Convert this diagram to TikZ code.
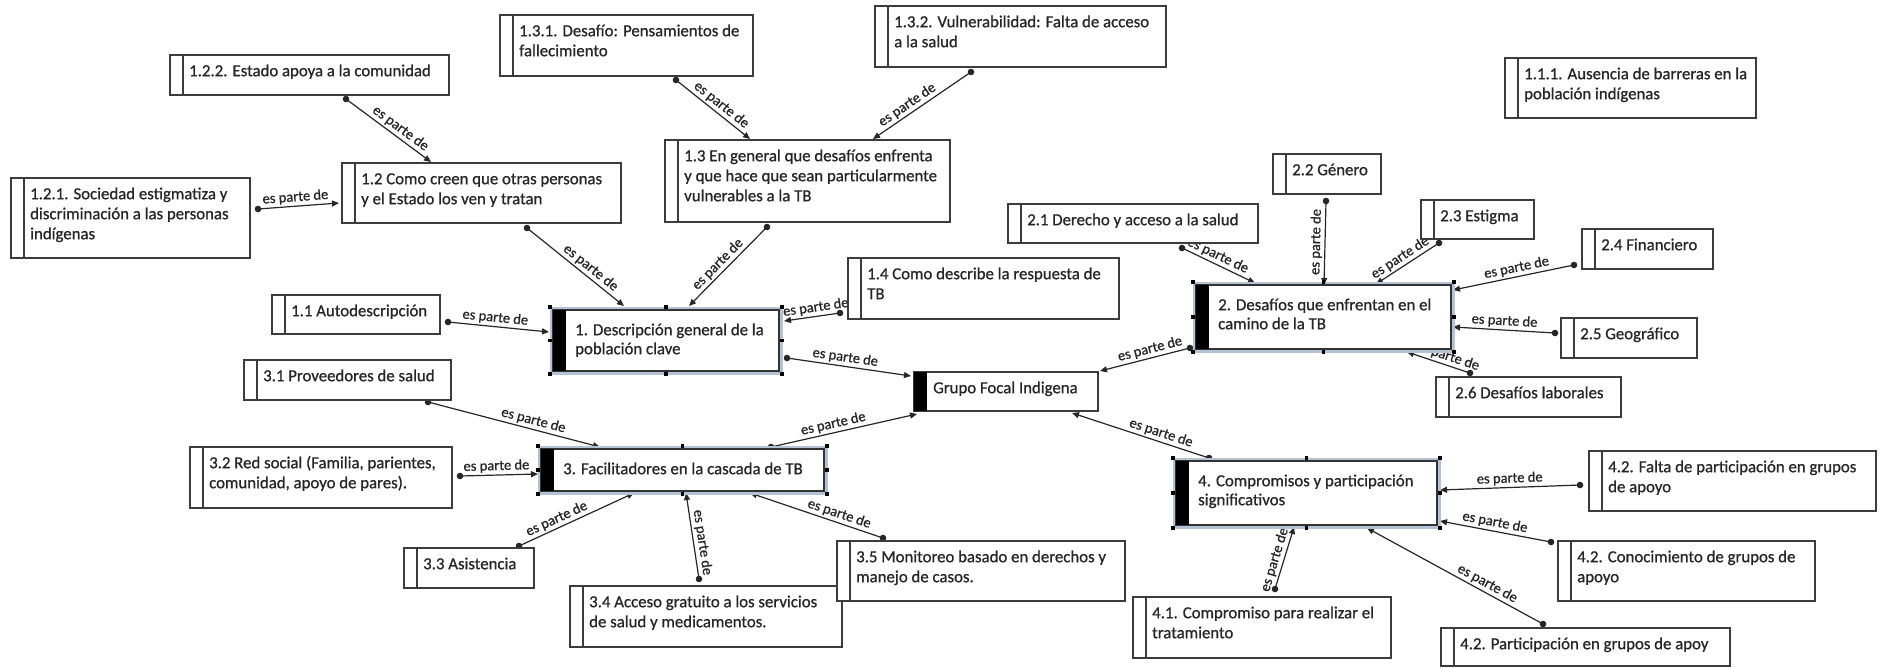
\documentclass[tikz,border=0pt]{standalone}
\usepackage{fontspec}
\setmainfont{Carlito}[RawFeature={embolden=0.8}]
\usetikzlibrary{arrows.meta,backgrounds}
\definecolor{edge}{HTML}{3C3C3C}
\definecolor{ink}{HTML}{262626}
\definecolor{sel}{HTML}{B3C2D4}
\tikzset{
  pbox/.style={draw=edge, line width=1.3pt, fill=white, inner sep=0pt, outer sep=0pt},
  mbox/.style={draw=black!80, line width=1.3pt, fill=white, inner sep=0pt, outer sep=0pt},
  selframe/.style={draw=sel, line width=3pt},
  btext/.style={inner sep=0pt, align=left, text=ink, font=\fontsize{16.8}{20}\selectfont},
  mtext/.style={inner sep=0pt, align=left, text=ink, font=\fontsize{16.8}{19}\selectfont},
  rel/.style={draw=black!85, line width=1.2pt, -{Triangle[length=7pt,width=6pt]}},
  lbl/.style={sloped, above, inner sep=2pt, text=ink, font=\fontsize{14.5}{16}\selectfont},
}
% plain concept box: name, left, top, right, bottom, text
\newcommand\plainbox[6]{%
  \node[pbox, minimum width={(#4-#2)*1pt}, minimum height={(#5-#3)*1pt}, anchor=north west] (#1) at (#2,#3) {};
  \draw[edge, line width=1.2pt] ([xshift=13pt]#1.north west) -- ([xshift=13pt]#1.south west);
  \node[btext, anchor=north west] (#1-t) at ([shift={(19,7)}]#1.north west) {\strut #6};
}
% category box with selection frame, handles and black bar
\newcommand\mainbox[6]{%
  \draw[selframe] (#2-2,#3-2) rectangle (#4+2,#5+2);
  \node[mbox, minimum width={(#4-#2)*1pt}, minimum height={(#5-#3)*1pt}, anchor=north west] (#1) at (#2,#3) {};
  \fill[black] (#1.north west) rectangle ([xshift=13pt]#1.south west);
  \foreach \a/\dx/\dy in {north west/-3/-3, north/0/-3, north east/3/-3, west/-3/0, east/3/0, south west/-3/3, south/0/3, south east/3/3}
    \fill[black] ([shift={(\dx-1.7,\dy-1.7)}]#1.\a) rectangle +(3.4,3.4);
  \node[mtext, anchor=north west] (#1-t) at ([shift={(22,11.7)}]#1.north west) {\strut #6};
}
% connector: from (dot end) to (arrow end), label position
\newcommand\conn[3]{%
  \draw[rel] #1 -- node[lbl, pos=#3] {es parte de} #2;
  \fill[black!85] #1 circle[radius=3.3pt];
}
\begin{document}
\begin{tikzpicture}[x={(1pt,0)}, y={(0,-1pt)}]
\useasboundingbox (0,0) rectangle (1881,667);

% ---- theme 1
\plainbox{b122}{170}{55}{449}{95}{1.2.2. Estado apoya a la comunidad}
\plainbox{b121}{11}{178}{250}{258}{1.2.1. Sociedad estigmatiza y\\discriminación a las personas\\indígenas}
\plainbox{b12}{342}{163}{621}{223}{1.2 Como creen que otras personas\\y el Estado los ven y tratan}
\plainbox{b11}{272}{295}{440}{334}{1.1 Autodescripción}
\plainbox{b131}{500}{15}{753}{76}{1.3.1. Desafío: Pensamientos de\\fallecimiento}
\plainbox{b132}{875}{6}{1166}{67}{1.3.2. Vulnerabilidad: Falta de acceso\\a la salud}
\plainbox{b13}{665}{140}{950}{222}{1.3 En general que desafíos enfrenta\\y que hace que sean particularmente\\vulnerables a la TB}
\plainbox{b14}{848}{258}{1119}{319}{1.4 Como describe la respuesta de\\TB}
\mainbox{b1}{553}{310}{779}{371}{1. Descripción general de la\\población clave}
\plainbox{b111}{1505}{58}{1756}{118}{1.1.1. Ausencia de barreras en la\\población indígenas}

% ---- theme 2
\plainbox{b21}{1008}{204}{1258}{243}{2.1 Derecho y acceso a la salud}
\plainbox{b22}{1273}{154}{1381}{194}{2.2 Género}
\plainbox{b23}{1421}{200}{1534}{239}{2.3 Estigma}
\plainbox{b24}{1582}{229}{1713}{269}{2.4 Financiero}
\plainbox{b25}{1561}{318}{1697}{358}{2.5 Geográfico}
\plainbox{b26}{1436}{377}{1621}{417}{2.6 Desafíos laborales}
\mainbox{b2}{1196}{285}{1451}{349}{2. Desafíos que enfrentan en el\\camino de la TB}

% ---- centre
\node[pbox, minimum width=184pt, minimum height=39pt, anchor=north west] (bg) at (914,372) {};
\fill[black] (bg.north west) rectangle ([xshift=13pt]bg.south west);
\node[btext, anchor=north west] (bg-t) at ([shift={(19,7)}]bg.north west) {\strut Grupo Focal Indigena};

% ---- theme 3
\plainbox{b31}{244}{360}{451}{400}{3.1 Proveedores de salud}
\plainbox{b32}{190}{447}{452}{508}{3.2 Red social (Familia, parientes,\\comunidad, apoyo de pares).}
\plainbox{b33}{404}{548}{534}{588}{3.3 Asistencia}
\plainbox{b34}{570}{586}{842}{647}{3.4 Acceso gratuito a los servicios\\de salud y medicamentos.}
\plainbox{b35}{837}{541}{1125}{601}{3.5 Monitoreo basado en derechos y\\manejo de casos.}
\mainbox{b3}{541}{449}{824}{491}{3. Facilitadores en la cascada de TB}

% ---- theme 4
\plainbox{b41}{1133}{597}{1391}{658}{4.1. Compromiso para realizar el\\tratamiento}
\plainbox{b42a}{1589}{451}{1876}{511}{4.2. Falta de participación en grupos\\de apoyo}
\plainbox{b42b}{1558}{541}{1815}{601}{4.2. Conocimiento de grupos de\\apoyo}
\plainbox{b42c}{1441}{628}{1730}{666}{4.2. Participación en grupos de apoy}
\mainbox{b4}{1176}{461}{1437}{525}{4. Compromisos y participación\\significativos}

% ---- connectors, behind the boxes
\begin{scope}[on background layer]
\conn{([shift={(176,4)}]b122.south west)}{([shift={(89,-1)}]b12.north west)}{.58}
\conn{([shift={(8,31)}]b121.north east)}{([shift={(-3,40)}]b12.north west)}{.47}
\conn{([shift={(185,5)}]b12.south west)}{([shift={(71,-4)}]b1.north west)}{.60}
\conn{([shift={(8,27)}]b11.north east)}{([shift={(-4,22)}]b1.north west)}{.46}
\conn{([shift={(176,4)}]b131.south west)}{([shift={(85,-1)}]b13.north west)}{.54}
\conn{([shift={(96,5)}]b132.south west)}{([shift={(208,-1)}]b13.north west)}{.60}
\conn{([shift={(102,5)}]b13.south west)}{([shift={(136,-4)}]b1.north west)}{.55}
\conn{([shift={(-8,-6)}]b14.south west)}{([shift={(5,11)}]b1.north east)}{.41}
\conn{([shift={(8,-13)}]b1.south east)}{([shift={(-3,4)}]bg.north west)}{.46}
\conn{([shift={(230,-2)}]b3.north west)}{([shift={(3,3)}]bg.south west)}{.44}
\conn{([shift={(-6,-1)}]b2.south west)}{([shift={(2,-1)}]bg.north east)}{.42}
\conn{([shift={(33,-3)}]b4.north west)}{([shift={(-26,2)}]bg.south east)}{.37}
\conn{([shift={(174,5)}]b21.south west)}{([shift={(59,-2)}]b2.north west)}{.44}
\conn{([shift={(53,7)}]b22.south west)}{([shift={(128,0)}]b2.north west)}{.49}
\conn{([shift={(18,4)}]b23.south west)}{([shift={(180,-1)}]b2.north west)}{.54}
\conn{([shift={(-8,-4)}]b24.south west)}{([shift={(2,5)}]b2.north east)}{.46}
\conn{([shift={(-6,15)}]b25.north west)}{([shift={(2,42)}]b2.north east)}{.50}
\conn{([shift={(34,-4)}]b26.north west)}{([shift={(211,3)}]b2.south west)}{.40}
\conn{([shift={(184,2)}]b31.south west)}{([shift={(59,-2)}]b3.north west)}{.60}
\conn{([shift={(8,29)}]b32.north east)}{([shift={(-3,25)}]b3.north west)}{.47}
\conn{([shift={(115,-2)}]b33.north west)}{([shift={(93,2)}]b3.south west)}{.36}
\conn{([shift={(129,-7)}]b34.north west)}{([shift={(145,2)}]b3.south west)}{.41}
\conn{([shift={(46,-3)}]b35.north west)}{([shift={(209,2)}]b3.south west)}{.35}
\conn{([shift={(142,-8)}]b41.north west)}{([shift={(118,2)}]b4.south west)}{.43}
\conn{([shift={(-9,34)}]b42a.north west)}{([shift={(3,29)}]b4.north east)}{.50}
\conn{([shift={(-7,1)}]b42b.north west)}{([shift={(3,-4)}]b4.south east)}{.52}
\conn{([shift={(102,-4)}]b42c.north west)}{([shift={(191,3)}]b4.south west)}{.34}
\end{scope}
\end{tikzpicture}
\end{document}
